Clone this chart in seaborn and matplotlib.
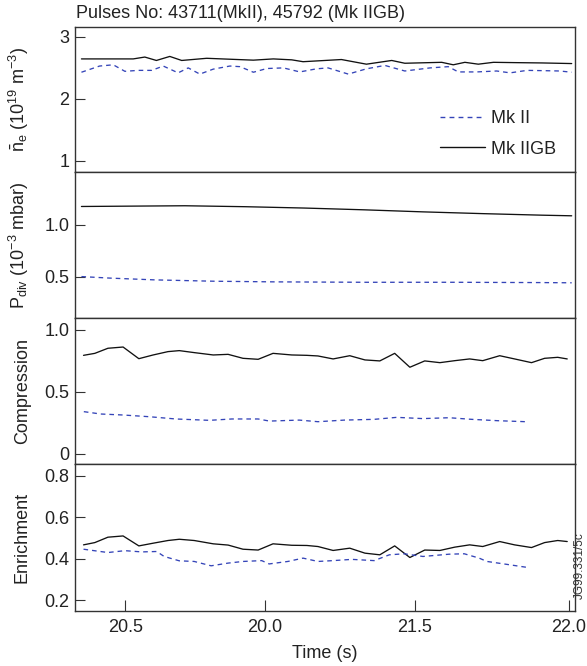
import matplotlib
matplotlib.use("Agg")
import matplotlib.pyplot as plt
import seaborn as sns
from matplotlib.lines import Line2D

# ---------------- data ----------------
t_ne_gb = [20.352, 20.45, 20.526, 20.565, 20.604, 20.649, 20.689, 20.773, 20.851, 20.930,
           20.997, 21.059, 21.097, 21.226, 21.310, 21.395, 21.439, 21.563, 21.602, 21.641,
           21.686, 21.737, 21.810, 21.90, 22.0]
ne_gb = [2.645, 2.645, 2.645, 2.675, 2.62, 2.685, 2.62, 2.655, 2.64, 2.625,
         2.645, 2.63, 2.60, 2.635, 2.56, 2.62, 2.575, 2.59, 2.55, 2.59,
         2.56, 2.59, 2.585, 2.58, 2.57]

t_ne_mk2 = [20.352, 20.413, 20.459, 20.498, 20.543, 20.588, 20.627, 20.677, 20.711, 20.750,
            20.795, 20.851, 20.885, 20.930, 20.975, 21.031, 21.086, 21.142, 21.181, 21.249,
            21.310, 21.372, 21.439, 21.524, 21.585, 21.619, 21.681, 21.748, 21.793, 21.85,
            21.91, 21.96, 22.0]
ne_mk2 = [2.43, 2.53, 2.55, 2.445, 2.46, 2.46, 2.53, 2.42, 2.50, 2.40,
          2.48, 2.53, 2.52, 2.43, 2.49, 2.50, 2.435, 2.485, 2.50, 2.40,
          2.485, 2.54, 2.45, 2.50, 2.52, 2.435, 2.435, 2.45, 2.42, 2.46,
          2.455, 2.45, 2.43]

t_p_gb = [20.352, 20.5, 20.7, 20.9, 21.1, 21.3, 21.5, 21.7, 21.9, 22.0]
p_gb = [1.177, 1.18, 1.184, 1.175, 1.162, 1.145, 1.125, 1.108, 1.093, 1.087]

t_p_mk2 = [20.352, 20.45, 20.6, 20.8, 21.0, 21.3, 21.6, 21.9, 22.0]
p_mk2 = [0.50, 0.485, 0.468, 0.455, 0.449, 0.445, 0.445, 0.442, 0.44]

t_gb = [20.359, 20.397, 20.441, 20.492, 20.545, 20.593, 20.643, 20.681, 20.731, 20.795,
        20.845, 20.895, 20.946, 20.996, 21.059, 21.110, 21.147, 21.198, 21.254, 21.305,
        21.355, 21.405, 21.456, 21.506, 21.557, 21.607, 21.657, 21.701, 21.758, 21.808,
        21.865, 21.909, 21.953, 21.985]
comp_gb = [0.793, 0.809, 0.850, 0.860, 0.766, 0.796, 0.823, 0.831, 0.815, 0.796,
           0.801, 0.769, 0.761, 0.809, 0.796, 0.793, 0.788, 0.764, 0.790, 0.756,
           0.748, 0.809, 0.697, 0.748, 0.734, 0.750, 0.764, 0.750, 0.790, 0.764,
           0.734, 0.769, 0.777, 0.764]
enr_gb = [0.466, 0.477, 0.503, 0.509, 0.461, 0.474, 0.487, 0.493, 0.487, 0.471,
          0.465, 0.445, 0.441, 0.471, 0.464, 0.463, 0.458, 0.439, 0.450, 0.426,
          0.418, 0.461, 0.405, 0.441, 0.439, 0.455, 0.466, 0.458, 0.482, 0.466,
          0.453, 0.477, 0.487, 0.482]

t_c_mk2 = [20.360, 20.417, 20.492, 20.581, 20.669, 20.782, 20.858, 20.946, 20.984, 21.084,
           21.147, 21.236, 21.336, 21.412, 21.500, 21.588, 21.664, 21.752, 21.846]
comp_mk2 = [0.339, 0.32, 0.312, 0.298, 0.28, 0.269, 0.28, 0.28, 0.263, 0.271,
            0.258, 0.271, 0.277, 0.293, 0.283, 0.29, 0.277, 0.266, 0.258]

t_e_mk2 = [20.359, 20.410, 20.441, 20.498, 20.555, 20.605, 20.630, 20.681, 20.731, 20.788,
           20.845, 20.895, 20.958, 20.983, 21.046, 21.097, 21.147, 21.198, 21.261, 21.336,
           21.387, 21.437, 21.500, 21.588, 21.639, 21.689, 21.715, 21.777, 21.847]
enr_mk2 = [0.445, 0.435, 0.429, 0.438, 0.432, 0.434, 0.410, 0.389, 0.386, 0.365,
           0.378, 0.386, 0.39, 0.374, 0.386, 0.402, 0.386, 0.39, 0.396, 0.39,
           0.418, 0.423, 0.41, 0.421, 0.423, 0.402, 0.386, 0.373, 0.358]

x_tick_pos = [20.5, 20.968, 21.473, 21.99]
x_tick_labels = ["20.5", "20.0", "21.5", "22.0"]
series_names = ["Mk II", "Mk IIGB"]
title = "Pulses No: 43711(MkII), 45792 (Mk IIGB)"
ylabels = [r"$\bar{\mathrm{n}}_\mathrm{e}$ (10$^{19}$ m$^{-3}$)",
           r"P$_\mathrm{div}$ (10$^{-3}$ mbar)",
           "Compression", "Enrichment"]
yticks = [[1, 2, 3], [0.5, 1.0], [0, 0.5, 1.0], [0.2, 0.4, 0.6, 0.8]]
yticklabels = [["1", "2", "3"], ["0.5", "1.0"], ["0", "0.5", "1.0"], ["0.2", "0.4", "0.6", "0.8"]]
ylims = [(0.82, 3.16), (0.10, 1.51), (-0.083, 1.094), (0.147, 0.856)]

# ---------------- style ----------------
sns.set_style("white")
plt.rcParams['font.family'] = ['Liberation Sans', 'DejaVu Sans']
plt.rcParams['mathtext.fontset'] = 'custom'
plt.rcParams['mathtext.rm'] = 'Liberation Sans'
plt.rcParams['mathtext.it'] = 'Liberation Sans:italic'
plt.rcParams['mathtext.bf'] = 'Liberation Sans:bold'

FS = 13
TXT = '#222222'
BLUE = '#3444b8'
BLACK = '#111111'

fig = plt.figure(figsize=(5.87, 6.66), dpi=100)
left = 74.9 / 587
width = (575.4 - 74.9) / 587
edges = [27, 172, 318, 464, 611]
axes = []
for i in range(4):
    top = 1 - edges[i] / 666
    bot = 1 - edges[i + 1] / 666
    ax = fig.add_axes([left, bot, width, top - bot])
    axes.append(ax)

pairs = [
    ((t_ne_mk2, ne_mk2), (t_ne_gb, ne_gb)),
    ((t_p_mk2, p_mk2), (t_p_gb, p_gb)),
    ((t_c_mk2, comp_mk2), (t_gb, comp_gb)),
    ((t_e_mk2, enr_mk2), (t_gb, enr_gb)),
]

for i, ax in enumerate(axes):
    (tm, vm), (tg, vg) = pairs[i]
    sns.lineplot(x=tg, y=vg, ax=ax, color=BLACK, linewidth=0.95, estimator=None,
                 sort=False, label=series_names[1] if i == 0 else None)
    sns.lineplot(x=tm, y=vm, ax=ax, color=BLUE, linewidth=0.95, estimator=None,
                 sort=False, dashes=False, label=series_names[0] if i == 0 else None)
    ax.lines[-1].set_dashes([3.5, 3])
    ax.set_xlim(20.330, 22.0125)
    ax.set_ylim(*ylims[i])
    ax.set_yticks(yticks[i])
    ax.set_yticklabels(yticklabels[i])
    ax.tick_params(axis='y', direction='in', length=7, width=0.8, color='#333333',
                   labelsize=FS, labelcolor=TXT, pad=4, left=True, right=False)
    if i < 3:
        ax.set_xticks([])
    else:
        ax.set_xticks(x_tick_pos)
        ax.set_xticklabels(x_tick_labels)
        ax.tick_params(axis='x', direction='in', length=8, width=0.8, color='#333333',
                       labelsize=FS, labelcolor=TXT, pad=6, bottom=True, top=False)
        ax.set_xlabel("Time (s)", fontsize=FS, color=TXT, labelpad=6)
    ax.set_ylabel(ylabels[i], fontsize=FS, color=TXT)
    ax.yaxis.set_label_coords(-0.088, 0.5)
    for s in ax.spines.values():
        s.set_visible(True)
        s.set_color('#333333')
        s.set_linewidth(1.0)
    if ax.get_legend() is not None:
        ax.get_legend().remove()

# legend in top panel
handles = [Line2D([], [], color=BLUE, lw=1.0, dashes=[3.5, 3]),
           Line2D([], [], color=BLACK, lw=1.0)]
axes[0].legend(handles, series_names, loc='center left',
               bbox_to_anchor=((440 - 74.9) / 500.5, (172 - 134) / 145),
               frameon=False, fontsize=FS, handlelength=2.5, handletextpad=0.3,
               labelspacing=0.75, borderpad=0, borderaxespad=0, labelcolor=TXT)

fig.text(76 / 587, 1 - 13 / 666, title, fontsize=FS, color=TXT, ha='left', va='center')
fig.text(580 / 587, 1 - 566 / 666, "JG99.331/5c", fontsize=8.5, color='#333333',
         rotation=90, ha='center', va='center')

fig.savefig("out.png", dpi=100)
